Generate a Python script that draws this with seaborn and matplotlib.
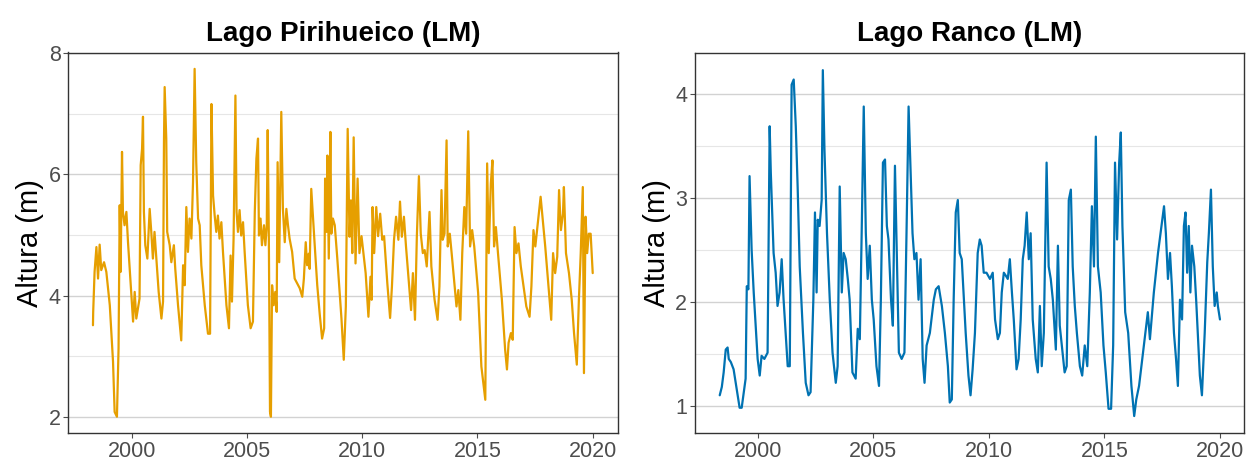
import matplotlib
matplotlib.use("Agg")
import matplotlib.pyplot as plt
from matplotlib.ticker import MultipleLocator
import seaborn as sns
import pandas as pd

# ---------------- data ----------------
pir_year = [1998.32, 1998.33, 1998.39, 1998.47, 1998.54, 1998.61, 1998.68, 1998.80, 1998.90, 1999.05, 1999.19, 1999.26,
            1999.36, 1999.43, 1999.48, 1999.52, 1999.58, 1999.62, 1999.69, 1999.77, 1999.84, 2000.06, 2000.13, 2000.20,
            2000.27, 2000.34, 2000.39, 2000.45, 2000.49, 2000.53, 2000.59, 2000.68, 2000.78, 2000.85, 2000.92, 2000.99,
            2001.07, 2001.17, 2001.29, 2001.36, 2001.40, 2001.43, 2001.50, 2001.54, 2001.65, 2001.72, 2001.83, 2001.89,
            2002.01, 2002.15, 2002.23, 2002.30, 2002.37, 2002.44, 2002.51, 2002.59, 2002.66, 2002.73, 2002.80, 2002.88,
            2002.95, 2003.02, 2003.17, 2003.31, 2003.40, 2003.46, 2003.53, 2003.60, 2003.67, 2003.74, 2003.81, 2003.89,
            2003.96, 2004.11, 2004.22, 2004.29, 2004.35, 2004.42, 2004.50, 2004.55, 2004.61, 2004.68, 2004.75, 2004.83,
            2004.90, 2005.04, 2005.16, 2005.26, 2005.34, 2005.41, 2005.48, 2005.52, 2005.59, 2005.65, 2005.74, 2005.80,
            2005.86, 2005.90, 2005.95, 2006.00, 2006.04, 2006.09, 2006.16, 2006.23, 2006.29, 2006.33, 2006.40, 2006.49,
            2006.56, 2006.64, 2006.71, 2006.78, 2006.85, 2006.96, 2007.07, 2007.29, 2007.40, 2007.47, 2007.55, 2007.61,
            2007.68, 2007.72, 2007.79, 2007.86, 2007.94, 2008.05, 2008.16, 2008.26, 2008.35, 2008.39, 2008.45, 2008.49,
            2008.55, 2008.62, 2008.66, 2008.73, 2008.81, 2008.92, 2009.10, 2009.20, 2009.29, 2009.37, 2009.45, 2009.51,
            2009.57, 2009.63, 2009.71, 2009.80, 2009.88, 2009.97, 2010.15, 2010.27, 2010.36, 2010.41, 2010.45, 2010.52,
            2010.61, 2010.69, 2010.78, 2010.87, 2010.95, 2011.09, 2011.21, 2011.29, 2011.38, 2011.47, 2011.57, 2011.64,
            2011.72, 2011.81, 2011.90, 2012.03, 2012.12, 2012.20, 2012.29, 2012.37, 2012.46, 2012.54, 2012.63, 2012.71,
            2012.80, 2012.92, 2013.00, 2013.14, 2013.27, 2013.35, 2013.44, 2013.49, 2013.57, 2013.66, 2013.71, 2013.80,
            2013.88, 2014.00, 2014.09, 2014.17, 2014.26, 2014.34, 2014.43, 2014.51, 2014.60, 2014.68, 2014.77, 2014.86,
            2015.03, 2015.17, 2015.34, 2015.42, 2015.49, 2015.58, 2015.65, 2015.72, 2015.80, 2015.89, 2016.06, 2016.20,
            2016.28, 2016.35, 2016.45, 2016.53, 2016.61, 2016.69, 2016.78, 2016.88, 2017.00, 2017.12, 2017.26, 2017.34,
            2017.43, 2017.51, 2017.60, 2017.74, 2017.82, 2017.94, 2018.08, 2018.20, 2018.28, 2018.37, 2018.46, 2018.54,
            2018.62, 2018.71, 2018.75, 2018.84, 2018.97, 2019.09, 2019.19, 2019.31, 2019.40, 2019.48, 2019.57, 2019.62,
            2019.69, 2019.76, 2019.83, 2019.91, 2020.00]
pir_level = [3.51, 3.73, 4.39, 4.80, 4.28, 4.84, 4.42, 4.55, 4.39, 3.84, 2.91, 2.08,
             2.00, 3.13, 5.49, 4.39, 6.37, 5.38, 5.16, 5.38, 4.88, 3.57, 4.06, 3.62,
             3.79, 3.95, 6.15, 6.42, 6.95, 5.38, 4.83, 4.61, 5.43, 5.05, 4.61, 5.05,
             4.61, 4.06, 3.62, 3.90, 6.53, 7.44, 6.59, 5.05, 4.83, 4.55, 4.83, 4.44,
             3.84, 3.26, 4.50, 4.17, 5.46, 4.72, 5.27, 4.94, 5.87, 7.74, 6.20, 5.27,
             5.16, 4.50, 3.84, 3.37, 3.37, 7.16, 5.65, 5.32, 5.05, 5.32, 4.94, 5.21,
             4.72, 3.84, 3.46, 4.66, 3.90, 4.94, 7.30, 5.38, 5.05, 5.41, 4.99, 5.21,
             4.72, 3.84, 3.46, 3.57, 5.38, 6.26, 6.59, 4.99, 5.27, 4.83, 5.16, 4.83,
             5.16, 6.73, 4.94, 2.08, 2.00, 4.17, 3.84, 4.06, 3.73, 6.20, 4.55, 7.03,
             5.43, 4.88, 5.43, 5.16, 4.94, 4.72, 4.28, 4.12, 3.98, 4.28, 4.88, 4.50,
             4.69, 4.44, 5.76, 5.32, 4.83, 4.17, 3.68, 3.29, 3.46, 5.93, 5.05, 6.31,
             4.61, 6.70, 5.02, 5.27, 5.16, 4.61, 3.62, 2.94, 3.82, 6.75, 4.97, 5.57,
             4.70, 6.61, 4.53, 5.93, 4.70, 4.98, 4.37, 3.65, 4.31, 3.93, 5.46, 4.70,
             5.46, 4.98, 5.35, 4.92, 4.98, 4.20, 3.63, 4.15, 4.92, 5.30, 4.92, 5.55,
             4.97, 5.30, 4.81, 4.20, 3.76, 4.37, 3.60, 4.97, 5.97, 5.02, 4.70, 4.75,
             4.48, 5.38, 4.48, 3.93, 3.60, 4.15, 5.74, 4.92, 5.02, 6.56, 4.81, 5.02,
             4.70, 4.20, 3.82, 4.09, 3.60, 4.70, 5.46, 5.02, 6.71, 4.81, 5.08, 4.81,
             4.04, 2.83, 2.28, 6.18, 4.70, 5.85, 6.23, 4.81, 5.13, 4.70, 3.93, 3.11,
             2.78, 3.22, 3.38, 3.27, 5.13, 4.70, 4.86, 4.48, 4.15, 3.82, 3.65, 4.15,
             5.08, 4.81, 5.13, 5.63, 5.30, 4.81, 4.15, 3.60, 4.70, 4.37, 4.64, 5.74,
             5.08, 5.35, 5.79, 4.70, 4.37, 3.93, 3.38, 2.86, 3.93, 4.70, 5.79, 2.72,
             5.30, 4.70, 5.02, 5.02, 4.37]

ran_year = [1998.36, 1998.45, 1998.53, 1998.62, 1998.70, 1998.75, 1998.84, 1998.96, 1999.22, 1999.31, 1999.48, 1999.53,
            1999.60, 1999.65, 1999.74, 1999.83, 2000.00, 2000.09, 2000.17, 2000.29, 2000.43, 2000.52, 2000.57, 2000.69,
            2000.78, 2000.86, 2000.95, 2001.04, 2001.12, 2001.21, 2001.30, 2001.39, 2001.47, 2001.56, 2001.65, 2001.73,
            2001.82, 2001.96, 2002.08, 2002.20, 2002.29, 2002.41, 2002.48, 2002.55, 2002.60, 2002.68, 2002.77, 2002.82,
            2002.89, 2003.00, 2003.12, 2003.24, 2003.38, 2003.46, 2003.55, 2003.64, 2003.72, 2003.81, 2003.90, 2003.98,
            2004.10, 2004.24, 2004.33, 2004.42, 2004.50, 2004.59, 2004.68, 2004.76, 2004.85, 2004.94, 2005.02, 2005.14,
            2005.25, 2005.33, 2005.42, 2005.51, 2005.59, 2005.66, 2005.77, 2005.85, 2005.94, 2006.02, 2006.11, 2006.23,
            2006.35, 2006.44, 2006.53, 2006.61, 2006.70, 2006.78, 2006.87, 2006.96, 2007.05, 2007.14, 2007.22, 2007.31,
            2007.45, 2007.62, 2007.71, 2007.83, 2007.97, 2008.10, 2008.23, 2008.31, 2008.40, 2008.48, 2008.57, 2008.66,
            2008.74, 2008.83, 2009.00, 2009.12, 2009.21, 2009.30, 2009.40, 2009.52, 2009.61, 2009.69, 2009.78, 2009.90,
            2010.05, 2010.17, 2010.27, 2010.39, 2010.48, 2010.56, 2010.65, 2010.74, 2010.82, 2010.91, 2011.00, 2011.08,
            2011.20, 2011.29, 2011.38, 2011.47, 2011.55, 2011.64, 2011.73, 2011.81, 2011.90, 2012.03, 2012.12, 2012.21,
            2012.29, 2012.38, 2012.50, 2012.59, 2012.68, 2012.77, 2012.90, 2012.99, 2013.07, 2013.16, 2013.28, 2013.37,
            2013.46, 2013.55, 2013.63, 2013.72, 2013.81, 2013.94, 2014.04, 2014.15, 2014.26, 2014.37, 2014.46, 2014.55,
            2014.63, 2014.72, 2014.84, 2014.96, 2015.06, 2015.18, 2015.29, 2015.38, 2015.46, 2015.55, 2015.64, 2015.71,
            2015.78, 2015.90, 2016.03, 2016.17, 2016.29, 2016.38, 2016.50, 2016.71, 2016.88, 2016.97, 2017.14, 2017.32,
            2017.58, 2017.66, 2017.75, 2017.84, 2017.92, 2018.01, 2018.10, 2018.18, 2018.27, 2018.36, 2018.44, 2018.51,
            2018.58, 2018.65, 2018.72, 2018.79, 2018.89, 2018.97, 2019.13, 2019.22, 2019.34, 2019.45, 2019.52, 2019.61,
            2019.69, 2019.77, 2019.86, 2019.91, 2020.00]
ran_level = [1.10, 1.18, 1.32, 1.54, 1.56, 1.45, 1.42, 1.35, 0.98, 0.98, 1.26, 2.15,
             2.12, 3.21, 2.50, 2.09, 1.45, 1.29, 1.48, 1.45, 1.51, 3.69, 3.24, 2.47,
             2.28, 1.96, 2.09, 2.41, 2.03, 1.70, 1.38, 1.38, 4.09, 4.14, 3.69, 3.11,
             2.34, 1.70, 1.22, 1.10, 1.13, 2.02, 2.86, 2.09, 2.79, 2.73, 2.98, 4.23,
             3.47, 2.66, 2.02, 1.51, 1.22, 1.38, 3.11, 2.09, 2.47, 2.41, 2.22, 2.02,
             1.32, 1.26, 1.74, 1.64, 2.66, 3.88, 2.66, 2.22, 2.54, 2.02, 1.83, 1.38,
             1.19, 2.02, 3.34, 3.37, 2.73, 2.60, 2.02, 1.77, 3.31, 2.47, 1.51, 1.45,
             1.51, 2.66, 3.88, 3.31, 2.66, 2.41, 2.47, 2.02, 2.41, 1.45, 1.22, 1.58,
             1.70, 2.02, 2.12, 2.15, 1.96, 1.70, 1.38, 1.03, 1.06, 2.02, 2.86, 2.98,
             2.47, 2.41, 1.70, 1.29, 1.10, 1.35, 1.70, 2.47, 2.60, 2.54, 2.28, 2.28,
             2.22, 2.28, 1.83, 1.64, 1.70, 2.09, 2.28, 2.25, 2.22, 2.41, 2.09, 1.83,
             1.35, 1.45, 1.83, 2.41, 2.54, 2.86, 2.41, 2.66, 1.83, 1.45, 1.32, 1.96,
             1.38, 1.70, 3.34, 2.34, 2.22, 2.02, 1.54, 2.54, 1.77, 1.58, 1.32, 1.38,
             2.98, 3.08, 2.34, 1.96, 1.70, 1.38, 1.29, 1.58, 1.38, 2.09, 2.92, 2.34,
             3.59, 2.34, 2.09, 1.58, 1.32, 0.97, 0.97, 1.58, 3.34, 2.60, 3.34, 3.63,
             2.73, 1.90, 1.70, 1.19, 0.90, 1.06, 1.19, 1.58, 1.90, 1.64, 2.09, 2.47,
             2.92, 2.66, 2.22, 2.47, 2.15, 1.70, 1.45, 1.19, 2.02, 1.83, 2.73, 2.86,
             2.28, 2.73, 2.09, 2.54, 2.34, 2.02, 1.29, 1.10, 1.70, 2.38, 2.66, 3.08,
             2.34, 1.96, 2.09, 1.96, 1.83]

titles = ["Lago Pirihueico (LM)", "Lago Ranco (LM)"]
colors = ["#E69F00", "#0072B2"]
ylabel = "Altura (m)"
x_ticks = [2000, 2005, 2010, 2015, 2020]

# ---------------- figure ----------------
sns.set_theme(style="white")
plt.rcParams["font.family"] = ["Liberation Sans", "DejaVu Sans"]

fig = plt.figure(figsize=(12.47, 4.63), dpi=100)
ax1 = fig.add_axes([68.3 / 1247, 1 - 433.3 / 463, 550 / 1247, (433.3 - 52.5) / 463])
ax2 = fig.add_axes([695 / 1247, 1 - 433.3 / 463, 549 / 1247, (433.3 - 52.5) / 463])

df1 = pd.DataFrame({"year": pir_year, "level": pir_level})
df2 = pd.DataFrame({"year": ran_year, "level": ran_level})

sns.lineplot(data=df1, x="year", y="level", ax=ax1, color=colors[0], linewidth=1.6, estimator=None, sort=False)
sns.lineplot(data=df2, x="year", y="level", ax=ax2, color=colors[1], linewidth=1.6, estimator=None, sort=False)

limits = [((1997.25, 2021.11), (1.727, 8.01), 2, 1), ((1997.29, 2021.04), (0.734, 4.40), 1, 0.5)]
for ax, title, (xl, yl, major, minor) in zip([ax1, ax2], titles, limits):
    ax.set_xlim(*xl)
    ax.set_ylim(*yl)
    ax.set_xticks(x_ticks)
    ax.yaxis.set_major_locator(MultipleLocator(major))
    ax.yaxis.set_minor_locator(MultipleLocator(minor))
    ax.grid(False)
    ax.grid(axis="y", which="major", color="#D2D2D2", linewidth=1.0)
    ax.grid(axis="y", which="minor", color="#E6E6E6", linewidth=0.8)
    ax.set_axisbelow(True)
    for sp in ax.spines.values():
        sp.set_color("#333333")
        sp.set_linewidth(1.0)
    ax.tick_params(axis="both", which="major", direction="out", length=3.5, width=0.8,
                   color="#4D4D4D", labelcolor="#4D4D4D", labelsize=15.5, pad=2,
                   bottom=True, left=True)
    ax.tick_params(axis="y", which="minor", left=False)
    ax.set_xlabel("")
    ax.set_ylabel(ylabel, fontsize=21, color="black", labelpad=3)
    ax.set_title(title, fontsize=20, fontweight="bold", color="black", pad=8)

fig.savefig("out.png", dpi=100)
